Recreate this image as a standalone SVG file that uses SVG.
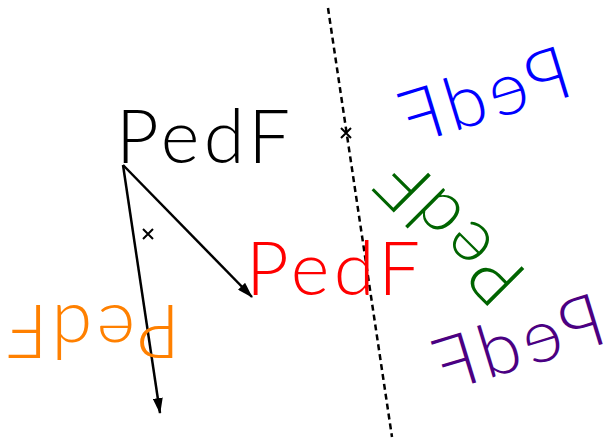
<svg xmlns="http://www.w3.org/2000/svg" width="610" height="439" viewBox="0 0 610 439">
<style>
.t{font-family:"Lato","Liberation Sans",Arial,sans-serif;font-weight:300;font-size:74px}
.arr{stroke:#000;stroke-width:2.5;fill:none;marker-end:url(#ah)}
.xm{stroke:#000;stroke-width:2;fill:none}
</style>
<defs>
<marker id="ah" markerUnits="userSpaceOnUse" markerWidth="16" markerHeight="10" refX="15" refY="5" orient="auto">
<path d="M0,0 L16,5 L0,10 Z" fill="#000"/>
</marker>
</defs>
<rect width="610" height="439" fill="#fff"/>
<g id="connectors">
<line class="arr" x1="123" y1="165" x2="252" y2="297"/>
<line class="arr" x1="123" y1="165" x2="160" y2="413"/>
<line x1="328" y1="8" x2="392" y2="437" stroke="#000" stroke-width="2.5" stroke-dasharray="6 4"/>
</g>
<g id="mark-rot180"><path class="xm" d="M143,229 L153,239 M153,229 L143,239"/></g>
<g id="mark-rot225"><path class="xm" d="M341,128 L351,138 M351,128 L341,138"/></g>
<g id="pedf-black"><text class="t" fill="#000" transform="translate(123 163)" x="-7" y="0" textLength="174" lengthAdjust="spacing">PedF</text></g>
<g id="pedf-red"><text class="t" fill="#f00" transform="translate(253 295)" x="-7" y="0" textLength="174" lengthAdjust="spacing">PedF</text></g>
<g id="pedf-orange"><text class="t" fill="#ff8000" transform="rotate(180 148 234) translate(123 163)" x="-7" y="0" textLength="174" lengthAdjust="spacing">PedF</text></g>
<g id="pedf-green"><text class="t" fill="#006400" transform="rotate(225 346 133) translate(123 163)" x="-7" y="0" textLength="174" lengthAdjust="spacing">PedF</text></g>
<g id="pedf-blue"><text class="t" fill="#00f" transform="matrix(-0.95645 0.29187 0.29187 0.95645 639.381 -95.385) translate(123 163)" x="-7" y="0" textLength="174" lengthAdjust="spacing">PedF</text></g>
<g id="pedf-purple"><text class="t" fill="#4b0082" transform="translate(34 247.3) matrix(-0.95645 0.29187 0.29187 0.95645 639.381 -95.385) translate(123 163)" x="-7" y="0" textLength="174" lengthAdjust="spacing">PedF</text></g>
</svg>
